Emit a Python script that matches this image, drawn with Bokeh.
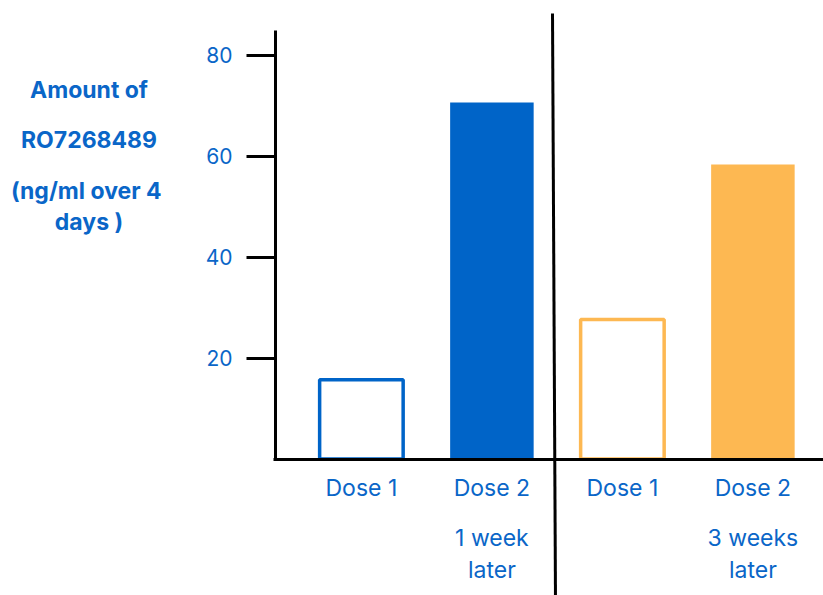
from bokeh.plotting import figure
from bokeh.models import LinearAxis, FixedTicker, Range1d
from bokeh.core.properties import value
from bokeh.embed import file_html
from bokeh.resources import INLINE

# --- data -------------------------------------------------------------
doses = ["Dose 1", "Dose 2", "Dose 1", "Dose 2"]
amounts = [15.7, 70.6, 27.6, 58.3]          # ng/ml over 4 days
intervals = ["", "1 week\nlater", "", "3 weeks\nlater"]
y_ticks = [20, 40, 60, 80]
title_lines = ["Amount of", "RO7268489", "(ng/ml  over 4", "days )"]

# --- styling ----------------------------------------------------------
BLUE = "#0064C8"
ORANGE = "#FDB852"
TEXT_BLUE = "#0A66C8"
FONT = "Inter"
palette = [BLUE, BLUE, ORANGE, ORANGE]

W, H = 823, 595
SLOT_PX = 130.5    # screen distance between bar slots
FIRST_PX = 360.9   # screen x of the first slot
ZERO_PX = 458.5    # screen y of value 0
UNIT_PX = 5.05     # screen px per ng/ml


def sx(px):
    return (px - FIRST_PX) / SLOT_PX


def sy(py):
    return (ZERO_PX - py) / UNIT_PX


p = figure(width=W, height=H,
           x_range=Range1d(sx(0), sx(W)), y_range=Range1d(sy(H), sy(0)),
           min_border=0, toolbar_location=None, output_backend="svg",
           x_axis_location=None, y_axis_location=None)
p.outline_line_color = None
p.background_fill_color = "white"
p.border_fill_color = "white"
p.xgrid.visible = False
p.ygrid.visible = False

slots = list(range(len(doses)))

# bars: first dose as an outline, second dose filled
for i in slots:
    if doses[i] == "Dose 2":
        p.vbar(x=[i], top=[amounts[i]], bottom=0, width=0.64,
               fill_color=palette[i], line_color=None)
    else:
        p.vbar(x=[i], top=[amounts[i]], bottom=0, width=0.64,
               fill_color="white", line_color=palette[i], line_width=3.5)

# y axis
yax = LinearAxis(fixed_location=sx(275), ticker=FixedTicker(ticks=y_ticks),
                 bounds=(0, sy(30)))
yax.axis_line_width = 3
yax.axis_line_color = "black"
yax.major_tick_line_width = 3
yax.major_tick_line_color = "black"
yax.major_tick_out = 29
yax.major_tick_in = 0
yax.minor_tick_out = 0
yax.minor_tick_in = 0
yax.major_label_standoff = 14
yax.major_label_text_color = TEXT_BLUE
yax.major_label_text_font = FONT
yax.major_label_text_font_size = "21px"
p.add_layout(yax, "left")

# x axis at zero, labelled with the dose names
xax = LinearAxis(fixed_location=0, ticker=FixedTicker(ticks=slots),
                 major_label_overrides={i: d for i, d in enumerate(doses)},
                 bounds=(sx(273), sx(W)))
xax.axis_line_width = 3
xax.axis_line_color = "black"
xax.major_tick_out = 0
xax.major_tick_in = 0
xax.minor_tick_out = 0
xax.minor_tick_in = 0
xax.major_label_standoff = 15
xax.major_label_text_color = TEXT_BLUE
xax.major_label_text_font = FONT
xax.major_label_text_font_size = "23px"
p.add_layout(xax, "below")

# interval notes under the second doses
p.text(x=slots, y=[sy(553.5)] * len(slots), text=intervals,
       text_align="center", text_baseline="middle",
       text_color=TEXT_BLUE, text_font=value(FONT), text_font_size="23px",
       text_line_height=1.12)

# divider between the two schedules
p.line(x=[sx(552), sx(555)], y=[sy(13), sy(H + 5)], line_color="black",
       line_width=3)

# vertical axis title
title_y = [89.5, 139, 190, 221]
p.text(x=[sx(88.5)] * len(title_lines), y=[sy(v) for v in title_y],
       text=title_lines, text_align="center", text_baseline="middle",
       text_color=TEXT_BLUE, text_font=value(FONT), text_font_size="23px",
       text_font_style="bold")

open("out.html", "w").write(file_html(p, INLINE))
